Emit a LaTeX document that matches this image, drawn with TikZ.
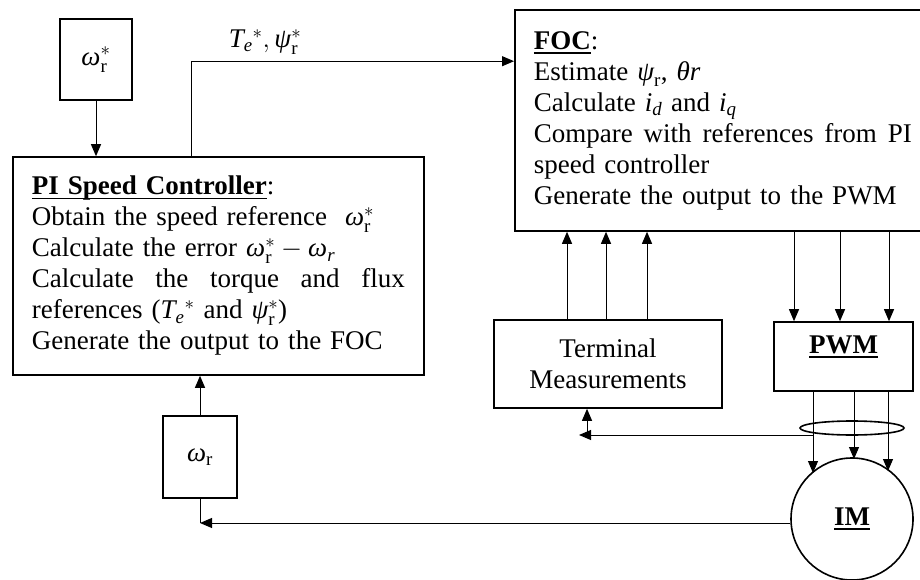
\RequirePackage{fix-cm}
\documentclass[tikz,border=0pt]{standalone}
\usepackage{fontspec}
\setmainfont{Liberation Serif}
\usepackage{amsmath}
\usetikzlibrary{arrows.meta,calc}
\newcommand\gom{\text{\itshape ω}}
\newcommand\gps{\text{\itshape ψ}}
\newcommand\itx[1]{\text{\itshape #1}}
\newcommand\omrs{\gom^{*}_{\text{r}}}
\newsavebox\myulbox
\newcommand\myul[1]{\leavevmode\sbox\myulbox{#1}\rlap{\rule[-4.5pt]{\wd\myulbox}{1.6pt}}\usebox\myulbox}
\newcommand\spreadline[2]{\leavevmode\hbox to #1{#2}}
\begin{document}
\begin{tikzpicture}[x=1pt,y=-1pt,
  font=\fontsize{27}{31}\selectfont,
  box/.style={draw, rectangle, line width=1.6pt, inner sep=0pt},
  txtbox/.style={box, align=left, inner xsep=19pt, inner ysep=0pt},
  arr/.style={-{Triangle[length=12pt,width=10pt]}, line width=1pt},
  wire/.style={line width=1pt}]
\useasboundingbox (0,0) rectangle (920,580);

% reference speed
\node[box, minimum width=72pt, minimum height=81pt] (wrs) at (96,59.5) {$\omrs$};

% PI speed controller
\node[txtbox, text width=373pt, minimum height=218pt, anchor=west] (PI) at (12,266) {%
\myul{\textbf{PI Speed Controller}}:\\
Obtain the speed reference\ \ $\omrs$\\
Calculate the error $\omrs - \gom_{\itx{r}}$\\
\spreadline{373pt}{Calculate\hfill the\hfill torque\hfill and\hfill flux}\\
references ($\itx{T}_{\itx{e}}{}^{*}$ and $\gps^{*}_{\text{r}}$)\\
Generate the output to the FOC};

% FOC
\node[txtbox, text width=378pt, minimum height=221pt, anchor=west] (FOC) at (514,120.5) {%
\myul{\textbf{FOC}}:\\
Estimate $\gps_{\text{r}}$, \textit{θr}\\
Calculate $\itx{i}_{\itx{d}}$ and $\itx{i}_{\itx{q}}$\\
\spreadline{378pt}{Compare\hfill with\hfill references\hfill from\hfill PI}\\
speed controller\\
Generate the output to the PWM};

% measured speed
\node[box, minimum width=74pt, minimum height=82pt] (wr) at (200,457) {$\gom_{\text{r}}$};

% terminal measurements
\node[box, minimum width=228pt, minimum height=88pt, align=center] (Term) at (608,364) {Terminal\\Measurements};

% PWM
\node[box, minimum width=139pt, minimum height=69pt] (PWM) at (843.5,356.5) {};
\node (pwmt) at (843.5,347) {\myul{\textbf{PWM}}};

% motor
\node[draw, circle, line width=1.6pt, minimum size=122pt, inner sep=0pt] (IM) at (852,519) {\myul{\textbf{IM}}};

% reference label
\node (reflbl) at (265,42) {$\itx{T}_{\itx{e}}{}^{*}, \gps^{*}_{\text{r}}$};

% connectors
\draw[arr] (wrs.south) -- (wrs.south |- PI.north);
\draw[arr] ([xshift=179pt]PI.north west) |- ([yshift=-52pt]FOC.north west);
\draw[arr] (wr.north) -- (wr.north |- PI.south);

\foreach \x in {567,606,647} {
  \coordinate (c\x) at (\x,0);
  \draw[arr] (Term.north -| c\x) -- (FOC.south -| c\x);
}
\foreach \x in {794,840,889} {
  \coordinate (c\x) at (\x,0);
  \draw[arr] (FOC.south -| c\x) -- (PWM.north -| c\x);
}
\coordinate (c813) at (813,0);
\coordinate (c854) at (854,0);
\coordinate (c888) at (888,0);
\draw[arr] (PWM.south -| c813) -- ($(IM.center)+(-39,-46)$);
\draw[arr] (PWM.south -| c854) -- ($(IM.center)+(2,-60)$);
\draw[arr] (PWM.south -| c888) -- ($(IM.center)+(36,-48)$);

\draw[line width=1.6pt] (852,428) ellipse [x radius=52pt, y radius=7pt];

\coordinate (tap) at (813,435);
\coordinate (tmh) at (579,435);
\coordinate (tmv) at (587,435);
\draw[arr] (tap) -- (tmh);
\draw[arr] (tmv) -- (Term.south -| tmv);

\coordinate (wrj) at (200,523);
\draw[arr] ([yshift=-4pt]IM.west) -- (wrj);
\draw[wire] (wr.south) -- (wrj);
\end{tikzpicture}
\end{document}
